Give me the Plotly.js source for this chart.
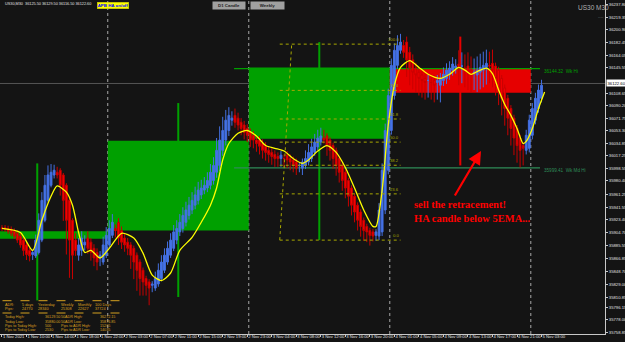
<!DOCTYPE html>
<html><head><meta charset="utf-8">
<script src="https://cdn.plot.ly/plotly-3.0.1.min.js"></script>
<style>html,body{margin:0;padding:0;background:#141414;}#c{width:625px;height:342px;}</style>
</head><body><div id="c"></div>
<script>
// ---- Heikin-Ashi M30 candles (US30), bar index 0..176 ----
const haOpen = [35912,35912,35911,35910,35907,35904,35900,35894,35887,35879,
 35873,35871,35876,35894,35923,35952,35974,35989,35993,35996,
 35989,35974,35952,35923,35894,35872,35879,35887,35897,35891,
 35882,35876,35868,35862,35872,35887,35901,35911,35920,35908,
 35897,35891,35887,35882,35872,35862,35850,35838,35833,35828,
 35824,35830,35838,35850,35862,35872,35882,35894,35906,35911,
 35920,35930,35938,35945,35952,35960,35967,35970,35974,35981,
 35993,36003,36025,36040,36054,36069,36076,36072,36066,36062,
 36057,36051,36047,36040,36040,36035,36031,36025,36022,36019,
 36016,36013,36013,36018,36013,36011,36008,36003,35999,36003,
 36008,36013,36022,36030,36037,36043,36046,36040,36032,36025,
 36013,36003,35993,35981,35970,35958,35945,35935,35923,35914,
 35908,35906,35901,35900,35906,35938,35996,36054,36105,36149,
 36171,36178,36183,36168,36157,36145,36139,36135,36130,36127,
 36124,36127,36124,36120,36127,36130,36136,36142,36145,36151,
 36148,36145,36148,36142,36138,36135,36139,36142,36146,36149,
 36152,36148,36142,36130,36116,36101,36086,36072,36057,36043,
 36032,36025,36028,36047,36069,36086,36101];
const haClose = [35911,35910,35907,35904,35900,35894,35887,35879,35873,35871,
 35876,35894,35923,35952,35974,35989,35993,35996,35989,35974,
 35952,35923,35894,35872,35879,35887,35897,35891,35882,35876,
 35868,35862,35872,35887,35901,35911,35920,35908,35897,35891,
 35887,35882,35872,35862,35850,35838,35833,35828,35824,35830,
 35838,35850,35862,35872,35882,35894,35906,35911,35920,35930,
 35938,35945,35952,35960,35967,35970,35974,35981,35993,36003,
 36025,36040,36054,36069,36076,36072,36066,36062,36057,36051,
 36047,36040,36040,36035,36031,36025,36022,36019,36016,36013,
 36013,36018,36013,36011,36008,36003,35999,36003,36008,36013,
 36022,36030,36037,36043,36046,36040,36032,36025,36013,36003,
 35993,35981,35970,35958,35945,35935,35923,35914,35908,35906,
 35901,35900,35906,35938,35996,36054,36105,36149,36171,36178,
 36183,36168,36157,36145,36139,36135,36130,36127,36124,36127,
 36124,36120,36127,36130,36136,36142,36145,36151,36148,36145,
 36148,36142,36138,36135,36139,36142,36146,36149,36152,36148,
 36142,36130,36116,36101,36086,36072,36057,36043,36032,36025,
 36028,36047,36069,36086,36101,36113,36120];
// upper / lower shadow lengths (points) above / below the body
const wickUp = [4,4,4,4,4,4,4,4,4,4,
 4,8,10,12,15,14,12,8,8,3,
 3,3,3,3,10,10,10,10,10,6,
 6,6,6,12,12,12,12,6,6,6,
 6,6,4,4,4,4,4,4,4,4,
 10,10,10,10,10,10,10,12,12,12,
 12,12,12,12,12,12,12,12,12,12,
 18,20,20,15,12,10,10,8,6,6,
 6,6,6,6,6,6,6,6,6,6,
 6,6,6,6,6,5,5,5,5,12,
 12,12,12,12,12,12,4,4,4,4,
 4,4,4,4,4,4,4,4,4,4,
 4,4,4,10,10,10,10,10,10,15,
 12,8,8,8,8,8,8,8,8,8,
 8,8,8,8,10,10,10,10,10,20,
 20,20,20,20,20,20,20,20,20,20,
 20,5,5,5,5,5,5,5,5,5,
 5,8,8,8,8,8,8];
const wickDn = [4,4,4,4,4,4,4,8,8,8,
 8,3,3,3,3,3,3,5,5,15,
 30,50,55,35,8,8,8,8,8,12,
 12,12,12,4,4,4,4,10,10,10,
 10,10,20,25,30,25,20,15,25,10,
 4,4,4,4,4,4,4,6,6,6,
 6,6,6,6,6,6,6,6,6,6,
 8,8,8,8,8,8,8,8,10,10,
 10,10,12,12,12,12,12,12,12,12,
 12,12,12,12,12,10,10,10,10,5,
 5,5,5,5,5,5,15,15,15,15,
 15,15,15,15,15,15,15,15,15,15,
 15,8,8,6,6,6,6,6,6,5,
 5,8,25,25,25,25,25,25,25,25,
 25,25,25,25,8,8,8,8,8,25,
 25,25,25,25,25,25,25,25,25,25,
 25,25,25,25,25,25,25,25,25,25,
 25,6,6,6,6,6,6];

// 5 EMA (read at selected bars)
const emaBar = [0,6,10,13,16,18,21,23,25,27,29,32,35,39,43,46,49,52,55,58,62,65,68,70,72,74,77,80,83,86,89,92,95,98,100,103,106,109,112,115,118,121,122,124,126,128,130,133,136,139,143,146,149,151,153,155,158,160,162,164,166,168,170,171,173,175,177];
const emaVal = [35911,35905,35879,35923,35958,35973,35964,35945,35905,35876,35879,35868,35882,35904,35897,35875,35843,35835,35846,35879,35898,35920,35945,35970,36011,36035,36050,36054,36046,36032,36028,36024,36013,36006,36011,36024,36032,36022,36000,35970,35938,35914,35914,35967,36062,36120,36146,36156,36146,36136,36130,36136,36146,36142,36136,36140,36145,36137,36113,36092,36076,36057,36035,36038,36057,36086,36110];

// D1 candle overlay (day start/end in bars)
const dayStart = [-11.5, 34.5, 80.5, 126.5];
const dayEnd   = [34.5, 80.5, 126.5, 172.5];
const dayOpen  = [35896, 35908, 36042, 36144];
const dayClose = [35907, 36039, 36146, 36109];
const dayHigh  = [36006, 36094, 36183, 36191];
const dayLow   = [35806, 35811, 35894, 36003];

// weekly levels
const wkHi = 36144.32, wkMdHi = 35999.41, wkFromBar = 75.7, wkToBar = 175.5;
const bidPrice = 36122.60;

// fibonacci retracement
const fibLevels = [0, 23.6, 38.2, 50, 61.8, 76.4, 100];
const fibLow = 35894, fibHigh = 36180;
const fibLowBar = 90.6, fibHighBar = 94.5, fibEndBar = 130;

// axis labels
const timeTickBars = [0,8,16,24,32,40,48,56,64,72,80,88,96,104,112,120,128,136,144,152,160,168,176];
const timeLabels = ["1 Nov 2021","1 Nov 10:00","1 Nov 14:00","1 Nov 18:00","1 Nov 22:00","2 Nov 03:00","2 Nov 07:00","2 Nov 11:00","2 Nov 15:00","2 Nov 19:00","2 Nov 23:00","3 Nov 04:00","3 Nov 08:00","3 Nov 12:00","3 Nov 16:00","3 Nov 20:00","4 Nov 01:00","4 Nov 05:00","4 Nov 09:00","4 Nov 13:00","4 Nov 17:00","4 Nov 21:00","5 Nov 03:00"];
// (the label at 36127.10 sits under the bid-price box, so it is not listed)
const priceTicks = [36237.80,36219.35,36200.90,36182.45,36164.05,36145.55,36108.65,36090.20,36071.75,36053.30,36034.85,36017.25,35998.55,35980.40,35961.25,35941.55,35923.40,35904.70,35885.55,35866.85,35848.70,35829.00,35810.85,35796.15,35778.00,35758.85];

// info panel
const adrHead = ["ADR:","5 days","Yesterday","Weekly","Monthly","100 Days"];
const adrPips = ["Pips:","24770","28340","25308","22627","37724"];
const infoRows = [
 ["Today High:","36129.50","50ADR High:","36272.15"],
 ["Today Low:","35880.00","50ADR Low:","35876.85"],
 ["Pips to Today High:","500","Pips to ADR High:","15265"],
 ["Pips to Today Low:","2530","Pips to ADR Low:","14035"]
];

// ---- build ----
const W = 605, H = 334;
const px = v => v / W, py = v => 1 - v / H;
const bars = haClose.map((_, i) => i);
const haHigh = haClose.map((c, i) => Math.max(haOpen[i], c) + wickUp[i]);
const haLow = haClose.map((c, i) => Math.min(haOpen[i], c) - wickDn[i]);

const shapes = [];
const GREEN = '#00a000', RED = '#e60000';
dayStart.forEach((s, i) => {
  const up = dayClose[i] >= dayOpen[i];
  const mid = (s + dayEnd[i]) / 2;
  shapes.push({type:'line', xref:'x', yref:'y', x0:mid, x1:mid, y0:dayLow[i], y1:dayHigh[i], line:{color: up?GREEN:RED, width:2}, layer:'below'});
  shapes.push({type:'rect', xref:'x', yref:'y', x0:s, x1:dayEnd[i], y0:dayOpen[i], y1:dayClose[i], fillcolor: up?GREEN:RED, line:{width:0}, layer:'below'});
});
dayEnd.forEach(e => shapes.push({type:'line', xref:'x', yref:'paper', x0:e, x1:e, y0:0, y1:1, line:{color:'#a8a8a8', width:1, dash:'dot'}, layer:'below'}));
shapes.push({type:'line', xref:'paper', yref:'y', x0:0, x1:1, y0:bidPrice, y1:bidPrice, line:{color:'#555555', width:1}, layer:'below'});
shapes.push({type:'line', xref:'x', yref:'y', x0:wkFromBar, x1:wkToBar, y0:wkHi, y1:wkHi, line:{color:'#00a000', width:1.2}, layer:'below'});
shapes.push({type:'line', xref:'x', yref:'y', x0:wkFromBar, x1:wkToBar, y0:wkMdHi, y1:wkMdHi, line:{color:'#2e8b57', width:1.2}, layer:'below'});
fibLevels.forEach(l => {
  const p = fibLow + (fibHigh - fibLow) * l / 100;
  shapes.push({type:'line', xref:'x', yref:'y', x0:fibLowBar, x1:fibEndBar, y0:p, y1:p, line:{color:'#a8a800', width:1, dash:'dot'}});
});
shapes.push({type:'line', xref:'x', yref:'y', x0:fibLowBar, x1:fibHighBar, y0:fibLow, y1:fibHigh, line:{color:'#a8a800', width:1, dash:'dot'}});
[300.7, 313].forEach(y => shapes.push({type:'line', xref:'paper', yref:'paper', x0:px(2.5), x1:px(125), y0:py(y), y1:py(y), line:{color:'#d4a020', width:1, dash:'dash'}}));

const FAM = 'Liberation Sans, Arial, sans-serif';
const ORANGE = '#dda020';
const ann = [];
const txt = (x, y, text, font, extra) => ann.push(Object.assign({xref:'paper', yref:'paper', x:px(x), y:py(y), text, showarrow:false, xanchor:'left', yanchor:'middle', font}, extra||{}));
txt(3, 4.5, 'US30,M30  36125.50 36129.50 36116.50 ' + bidPrice.toFixed(2), {family:FAM, size:3.8, color:'#e0e0e0'});
txt(97, 5.5, '<b>APB HA on/off</b>', {family:FAM, size:4.4, color:'#0000ff'}, {bgcolor:'#ffff00', width:31, height:6, align:'center', bordercolor:'#c8c800', borderwidth:0.5, borderpad:0});
txt(212, 5.5, '<b>D1 Candle</b>', {family:FAM, size:4.4, color:'#202020'}, {bgcolor:'#a0a0a0', width:32, height:6.5, align:'center', borderpad:0});
txt(250, 5.5, '<b>Weekly</b>', {family:FAM, size:4.4, color:'#202020'}, {bgcolor:'#a0a0a0', width:33, height:6.5, align:'center', borderpad:0});
txt(576, 7.5, 'US30 M30', {family:FAM, size:6.5, color:'#b0b0b0'});
txt(596, 16, '----', {family:FAM, size:4, color:'#909090'});
const adrX = [3, 20, 36, 58.7, 76, 93.3];
adrHead.forEach((t, i) => txt(adrX[i], 304.5, t, {family:FAM, size:3.8, color:ORANGE}));
adrPips.forEach((t, i) => txt(adrX[i], 309, t, {family:FAM, size:3.8, color:ORANGE}));
const infoX = [3, 42.5, 58.5, 98.3];
infoRows.forEach((row, r) => row.forEach((t, i) => txt(infoX[i], 317.3 + r * 4.3, t, {family:FAM, size:3.7, color:ORANGE})));
// weekly level labels
ann.push({xref:'x', yref:'y', x:wkToBar+0.5, y:wkHi, yshift:-3, text: wkHi.toFixed(2)+'  Wk Hi', showarrow:false, xanchor:'left', font:{family:FAM, size:4.6, color:'#00a000'}});
ann.push({xref:'x', yref:'y', x:wkToBar+0.5, y:wkMdHi, yshift:-3, text: wkMdHi.toFixed(2)+'  Wk Md Hi', showarrow:false, xanchor:'left', font:{family:FAM, size:4.6, color:'#2e8b57'}});
fibLevels.forEach(l => {
  const p = fibLow + (fibHigh - fibLow) * l / 100;
  ann.push({xref:'x', yref:'y', x:fibEndBar, y:p, text:l.toFixed(1), showarrow:false, xanchor:'right', yanchor:'bottom', font:{family:FAM, size:4.2, color:'#a8a800'}});
});
// current price label on axis
ann.push({xref:'paper', yref:'y', x:px(606), y:bidPrice, text:bidPrice.toFixed(2), showarrow:false, xanchor:'left', yanchor:'middle', bgcolor:'#ffffff', borderpad:0.5, font:{family:FAM, size:4.2, color:'#000000'}});
// comment + arrow
ann.push({xref:'paper', yref:'paper', x:px(481), y:py(151), ax:-27, ay:46, text:'', showarrow:true, arrowhead:2, arrowsize:1.2, arrowwidth:2.2, arrowcolor:'#ff0000'});
ann.push({xref:'paper', yref:'paper', x:px(412), y:py(211), text:'<b>sell the retracement!<br>HA candle below 5EMA...</b>', showarrow:false, xanchor:'left', yanchor:'middle', align:'left', font:{family:'Liberation Serif, Times New Roman, serif', size:10.5, color:'#ff0000'}});

const traces = [
  {type:'candlestick', x:bars, open:haOpen, high:haHigh, low:haLow, close:haClose,
   increasing:{line:{color:'#4470e0', width:1}, fillcolor:'#4472ec'},
   decreasing:{line:{color:'#c80000', width:1}, fillcolor:'#ff0000'},
   whiskerwidth:0, hoverinfo:'skip', showlegend:false},
  {type:'scatter', mode:'lines', x:emaBar, y:emaVal, line:{color:'#ffff00', width:1.3, shape:'spline', smoothing:0.7}, hoverinfo:'skip', showlegend:false}
];

const layout = {
  width:625, height:342, margin:{l:0, r:20, t:0, b:8},
  paper_bgcolor:'#141414', plot_bgcolor:'#141414', showlegend:false, boxgap:0.15,
  xaxis:{range:[-0.65, 196.7], showgrid:false, zeroline:false, showline:true, linecolor:'#c8c8c8', linewidth:1,
    ticks:'outside', ticklen:2, tickcolor:'#c8c8c8', tickvals:timeTickBars, ticktext:timeLabels, tickangle:0,
    ticklabelposition:'outside right', ticklabelstandoff:-2, tickfont:{family:FAM, size:4.2, color:'#e0e0e0'},
    rangeslider:{visible:false}, fixedrange:true},
  yaxis:{range:[35757.0, 36244.4], side:'right', showgrid:false, zeroline:false, showline:true, linecolor:'#c8c8c8', linewidth:1,
    ticks:'outside', ticklen:2, tickcolor:'#c8c8c8', tickvals:priceTicks, ticktext:priceTicks.map(v=>v.toFixed(2)),
    tickfont:{family:FAM, size:4.2, color:'#e0e0e0'}, fixedrange:true},
  shapes, annotations: ann
};
Plotly.newPlot('c', traces, layout, {staticPlot:true, displayModeBar:false});
</script></body></html>
